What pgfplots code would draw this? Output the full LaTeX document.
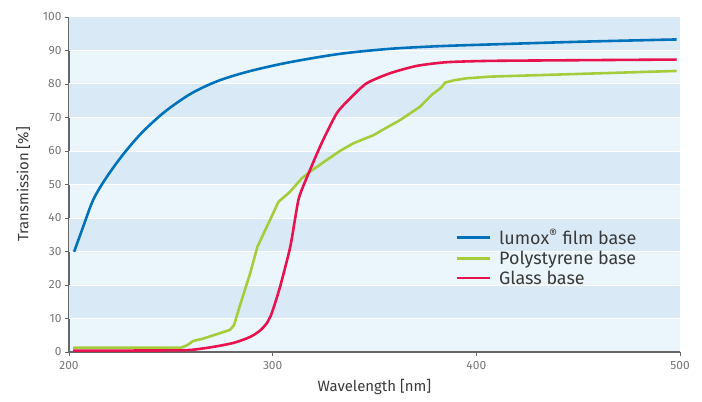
\documentclass[border=0pt]{standalone}
\usepackage{pgfplots}
\pgfplotsset{compat=1.18}
\usepackage{fontspec}
\setmainfont{Fira Sans}
\definecolor{cblue}{HTML}{0072BC}
\definecolor{cgreen}{HTML}{A5CC3A}
\definecolor{cred}{HTML}{E8124F}
\definecolor{bandD}{HTML}{DAE9F6}
\definecolor{bandL}{HTML}{EAF6FC}
\definecolor{axgray}{HTML}{666666}
\definecolor{tickgray}{HTML}{555555}
\definecolor{legtext}{HTML}{3A3A3A}
\begin{document}
\begin{tikzpicture}
\useasboundingbox (0,0) rectangle (702bp,402bp);
\begin{axis}[
  at={(69bp,50bp)}, anchor=south west,
  scale only axis, width=611bp, height=335bp,
  xmin=200, xmax=500, ymin=0, ymax=100,
  xtick={200,300,400,500}, ytick={0,10,...,100},
  axis background/.style={fill=bandL},
  axis x line*=bottom, axis y line*=left,
  axis line style={axgray, line width=1.2pt},
  tick style={axgray, line width=0.8pt},
  tick align=outside, major tick length=4bp,
  ticklabel style={font=\fontsize{12}{12}\selectfont, text=tickgray!80},
  /pgf/number format/assume math mode=true,
  xticklabel style={yshift=-2bp},
  xlabel={Wavelength [nm]}, ylabel={Transmission [\%]},
  label style={font=\fontsize{15}{15}\selectfont, text=legtext},
  xlabel style={yshift=-3bp},
  ylabel style={yshift=6bp},
  legend style={draw=none, fill=none, at={(0.632,0.372)}, anchor=north west,
    font=\fontsize{18}{18}\selectfont, text=legtext,
    row sep=2.5bp, inner sep=0pt, nodes={inner sep=1.2bp}},
  legend cell align=left,
  legend image code/.code={\draw[#1, line width=2.6pt] (0bp,0bp) -- (33bp,0bp); \path (40bp,0bp);},
  clip=false,
]
\foreach \y in {10,30,50,70,90}{
  \edef\tmp{\noexpand\fill[bandD] (axis cs:200,\y) rectangle (axis cs:500,\y+10);}
  \tmp
}
\foreach \y in {10,20,...,90}{
  \edef\tmp{\noexpand\draw[white, line width=1pt] (axis cs:200,\y) -- (axis cs:500,\y);}
  \tmp
}
\addplot[cblue, line width=2.6pt, smooth] coordinates {
(202.5,29.9)(206.9,37.3)(211.8,45.3)(217.5,51.3)(225.7,58.3)(235.5,65.3)(247,71.7)(260.1,77.2)(273.1,80.9)(287.9,83.7)(307.5,86.4)(333,89.0)(357.6,90.5)(382,91.3)(406.7,91.8)(450,92.6)(498.3,93.3)};
\addlegendentry{lumox\textsuperscript{®} film base}
\addplot[cgreen, line width=2.6pt] coordinates {
(202,1.3)(255,1.3)(258,2)(261,3.3)(265.9,4.0)(272.5,5.3)(279,6.6)(281,8)(284,14)(288.9,23.4)(292.5,31.4)(298.7,39.4)(302.8,44.8)(308.5,47.8)(314.2,51.8)(318.3,53.8)(326.5,57.3)(333,60)(339.6,62.3)(349.4,64.7)(356,67)(362.5,69.2)(372.3,73.2)(378,76.7)(382.9,79)(384.6,80.4)(389,81.1)(395.2,81.7)(406.7,82.2)(450,83)(498.3,83.9)};
\addlegendentry{Polystyrene base}
\addplot[cred, line width=2.6pt, smooth, tension=0.4] coordinates {
(202,0.4)(254.5,0.5)(265,1)(272.5,1.7)(280.7,2.7)(287,4)(290.5,5.0)(294,6.5)(297,8.5)(299.5,11.5)(303.6,19.4)(308.5,31)(310.9,39.4)(312.6,45.3)(314.2,48.3)(318.3,54.3)(324,62.3)(331.4,71.2)(338,75.7)(346.1,80.2)(357.6,83.2)(370.7,85.4)(385.4,86.5)(406.7,86.9)(450,87.1)(498.3,87.3)};
\addlegendentry{Glass base}
\end{axis}
\end{tikzpicture}
\end{document}
